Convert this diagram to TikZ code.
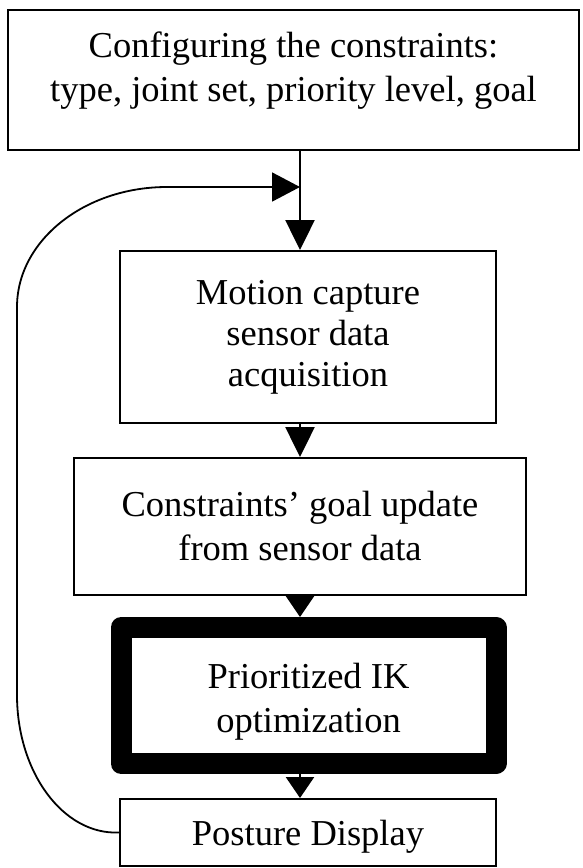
\documentclass[tikz,border=0pt]{standalone}
\usepackage{fontspec}
\setmainfont{Liberation Serif}
\usetikzlibrary{arrows.meta}
\begin{document}
\begin{tikzpicture}[x=1pt,y=-1pt,
  box/.style={draw=black,line width=2pt,rectangle,inner sep=0pt,align=center,
    font=\fontsize{36.5}{44}\selectfont},
  txt/.style={inner sep=0pt,align=center,font=\fontsize{36.5}{44}\selectfont},
  thickbox/.style={box,line width=21pt,line join=round},
  flow/.style={line width=2.5pt,-{Triangle[length=30pt,width=29pt]}},
  shortflow/.style={line width=2.5pt,-{Triangle[length=21pt,width=28pt]}},
  back/.style={line width=1.8pt,-{Triangle[length=28pt,width=29pt]}}]
\useasboundingbox (0,0) rectangle (582,868);
\node[box,minimum width=571pt,minimum height=140pt] (top) at (293.5,80) {};
\node[txt] (toptxt) at (293.5,71) {Configuring the constraints:\\type, joint set, priority level, goal};
\node[box,minimum width=376pt,minimum height=172pt] (mot) at (308,337) {};
\node[txt,font=\fontsize{36.5}{41}\selectfont] (mottxt) at (308,337) {Motion capture\\sensor data\\acquisition};
\node[box,minimum width=452pt,minimum height=137pt] (con) at (300,526.5) {Constraints’ goal update\\from sensor data};
\node[thickbox,minimum width=375pt,minimum height=136pt] (ik) at (308.5,695.5) {};
\node[txt] (iktxt) at (308.5,702) {Prioritized IK\\optimization};
\node[box,minimum width=376pt,minimum height=67pt] (post) at (308,832.5) {};
\node[txt] (posttxt) at (308,837) {Posture Display};
\coordinate (j) at (300,187);
\draw[flow] (top.south -| j) -- (mot.north -| j);
\draw[flow] (mot.south -| j) -- (con.north -| j);
\draw[shortflow] (con.south -| j) -- (ik.north -| j);
\draw[shortflow] (ik.south -| j) -- (post.north -| j);
\draw[back] (post.west) .. controls (63,835) and (17,772) .. (17,695)
  -- (17,307) .. controls (17,241) and (84,187) .. (167,187) -- (j);
\end{tikzpicture}
\end{document}
